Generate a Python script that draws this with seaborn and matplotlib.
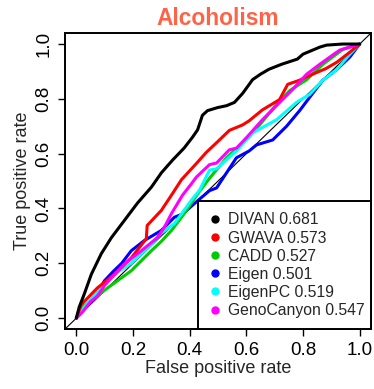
import numpy as np
import pandas as pd
import matplotlib
matplotlib.use("Agg")
import matplotlib.pyplot as plt
from matplotlib.lines import Line2D
import seaborn as sns

title = "Alcoholism"
methods = ["DIVAN", "GWAVA", "CADD", "Eigen", "EigenPC", "GenoCanyon"]
aucs = ["0.681", "0.573", "0.527", "0.501", "0.519", "0.547"]
colors = ["#000000", "#FF0000", "#00CD00", "#0000FF", "#00FFFF", "#FF00FF"]

divan_fpr = [0.0, 0.01, 0.028, 0.053, 0.088, 0.124, 0.17, 0.216, 0.265, 0.30, 0.34, 0.38, 0.41,
             0.428, 0.445, 0.463, 0.498, 0.53, 0.558, 0.587, 0.622, 0.65, 0.68, 0.724, 0.78, 0.80, 0.86, 0.883, 0.94, 1.0]
divan_tpr = [0.0, 0.04, 0.088, 0.16, 0.235, 0.294, 0.357, 0.42, 0.478, 0.53, 0.577, 0.62, 0.66,
             0.687, 0.74, 0.757, 0.768, 0.775, 0.787, 0.82, 0.87, 0.89, 0.908, 0.926, 0.945, 0.963, 0.989, 0.996, 1.0, 1.0]

gwava_fpr = [0.0, 0.018, 0.074, 0.134, 0.194, 0.247, 0.25, 0.30, 0.336, 0.371, 0.42, 0.459, 0.50, 0.54, 0.587,
             0.61, 0.657, 0.717, 0.746, 0.788, 0.834, 0.88, 0.92, 0.965, 1.0]
gwava_tpr = [0.0, 0.05, 0.11, 0.16, 0.22, 0.29, 0.338, 0.393, 0.449, 0.505, 0.56, 0.605, 0.645, 0.685, 0.705,
             0.72, 0.76, 0.797, 0.853, 0.868, 0.89, 0.91, 0.934, 0.97, 1.0]

cadd_fpr = [0.0, 0.02, 0.06, 0.11, 0.15, 0.194, 0.23, 0.265, 0.30, 0.336, 0.38, 0.43, 0.47, 0.53, 0.587, 0.61,
            0.647, 0.707, 0.753, 0.813, 0.87, 0.94, 1.0]
cadd_tpr = [0.0, 0.04, 0.07, 0.11, 0.14, 0.173, 0.21, 0.246, 0.28, 0.32, 0.38, 0.456, 0.51, 0.585, 0.64, 0.662,
            0.705, 0.78, 0.83, 0.87, 0.926, 0.98, 1.0]

eigen_fpr = [0.0, 0.02, 0.064, 0.099, 0.13, 0.16, 0.194, 0.24, 0.30, 0.346, 0.375, 0.43, 0.47, 0.495, 0.565,
             0.61, 0.636, 0.693, 0.742, 0.788, 0.823, 0.87, 0.92, 0.965, 1.0]
eigen_tpr = [0.0, 0.03, 0.07, 0.136, 0.17, 0.20, 0.246, 0.283, 0.32, 0.368, 0.38, 0.43, 0.465, 0.475, 0.585,
             0.61, 0.632, 0.65, 0.70, 0.757, 0.805, 0.868, 0.908, 0.952, 1.0]

eigenpc_fpr = [0.0, 0.02, 0.06, 0.11, 0.15, 0.194, 0.23, 0.265, 0.30, 0.346, 0.406, 0.435, 0.47, 0.495, 0.565,
               0.622, 0.707, 0.777, 0.823, 0.87, 0.92, 0.965, 1.0]
eigenpc_tpr = [0.0, 0.03, 0.08, 0.136, 0.17, 0.20, 0.235, 0.27, 0.31, 0.345, 0.43, 0.467, 0.54, 0.545, 0.61,
               0.676, 0.724, 0.787, 0.816, 0.868, 0.908, 0.963, 1.0]

geno_fpr = [0.0, 0.02, 0.05, 0.074, 0.10, 0.124, 0.17, 0.23, 0.286, 0.31, 0.336, 0.375, 0.406, 0.424, 0.47,
            0.495, 0.54, 0.565, 0.60, 0.657, 0.707, 0.763, 0.813, 0.859, 0.905, 0.93, 1.0]
geno_tpr = [0.0, 0.02, 0.06, 0.08, 0.12, 0.147, 0.198, 0.246, 0.294, 0.33, 0.382, 0.449, 0.49, 0.515, 0.56,
            0.566, 0.614, 0.62, 0.658, 0.724, 0.776, 0.834, 0.89, 0.926, 0.96, 0.978, 1.0]

fprs = [divan_fpr, gwava_fpr, cadd_fpr, eigen_fpr, eigenpc_fpr, geno_fpr]
tprs = [divan_tpr, gwava_tpr, cadd_tpr, eigen_tpr, eigenpc_tpr, geno_tpr]

frames = []
for m, f, t in zip(methods, fprs, tprs):
    frames.append(pd.DataFrame({"fpr": f, "tpr": t, "method": m, "order": np.arange(len(f))}))
df = pd.concat(frames, ignore_index=True)

sns.set_style("ticks")
plt.rcParams["font.family"] = ["Liberation Sans", "DejaVu Sans"]

fig = plt.figure(figsize=(3.74, 3.89), dpi=100)
ax = fig.add_axes([0.1738, 0.154, 0.8182, 0.761])

ax.plot([-0.04, 1.04], [-0.04, 1.04], color="black", lw=0.8, zorder=1)

draw_order = ["Eigen", "CADD", "EigenPC", "GWAVA", "GenoCanyon", "DIVAN"]
for m in draw_order:
    i = methods.index(m)
    sub = df[df["method"] == m]
    sns.lineplot(data=sub, x="fpr", y="tpr", sort=False, estimator=None, color=colors[i],
                 lw=2.2, ax=ax, legend=False, zorder=3)

ax.set_xlim(-0.04, 1.04)
ax.set_ylim(-0.04, 1.04)
ticks = [0.0, 0.2, 0.4, 0.6, 0.8, 1.0]
ax.set_xticks(ticks)
ax.set_yticks(ticks)
ax.set_xticklabels([f"{t:.1f}" for t in ticks], fontsize=13.5)
ax.set_yticklabels([f"{t:.1f}" for t in ticks], fontsize=13.5, rotation=90, va="center")
ax.tick_params(axis="both", direction="out", length=5, width=1, colors="black", pad=4)
for s in ax.spines.values():
    s.set_linewidth(1.4)
    s.set_color("black")
ax.set_xlabel("False positive rate", fontsize=13, labelpad=1)
ax.set_ylabel("True positive rate", fontsize=13, labelpad=3)
ax.set_title(title, fontsize=16.4, fontweight="bold", color="#FF6347", pad=6)

handles = [Line2D([0], [0], marker="o", color=c, lw=0, markersize=5) for c in colors]
labels = [f"{m} {a}" for m, a in zip(methods, aucs)]
leg = ax.legend(handles, labels, loc="lower right", bbox_to_anchor=(0.435, 0.0, 0.565, 0.4),
                mode="expand", borderaxespad=0, fontsize=11.3, frameon=True, fancybox=False,
                handlelength=0.8, handletextpad=0.4, labelspacing=0.2, borderpad=0.7)
leg.get_frame().set_edgecolor("black")
leg.get_frame().set_linewidth(1.4)
leg.get_frame().set_alpha(1)

fig.savefig("out.png", dpi=100)
